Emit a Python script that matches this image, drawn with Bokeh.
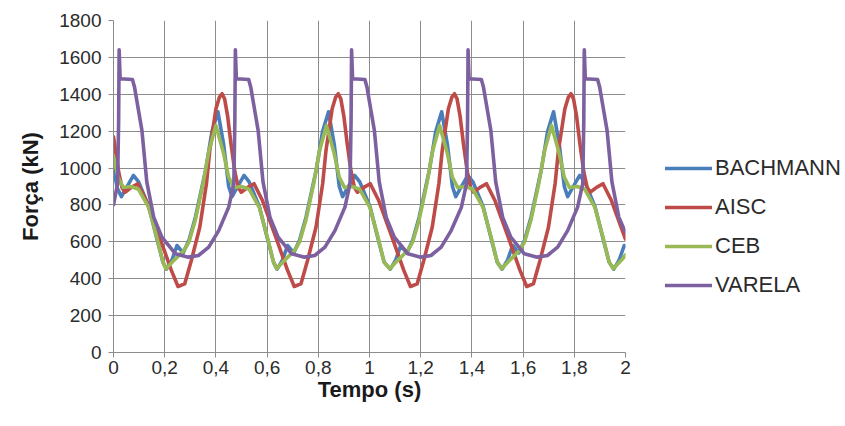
from bokeh.plotting import figure
from bokeh.models import Legend, LegendItem, FixedTicker
from bokeh.embed import file_html
from bokeh.resources import INLINE

# ---- data ----
x_ticks = [0, 0.2, 0.4, 0.6, 0.8, 1.0, 1.2, 1.4, 1.6, 1.8, 2.0]
x_tick_labels = ["0", "0,2", "0,4", "0,6", "0,8", "1", "1,2", "1,4", "1,6", "1,8", "2"]
y_ticks = [0, 200, 400, 600, 800, 1000, 1200, 1400, 1600, 1800]
series_names = ["BACHMANN", "AISC", "CEB", "VARELA"]

bachmann_t = [0.000, 0.015, 0.031, 0.053, 0.078, 0.098, 0.138, 0.168, 0.193, 0.207, 0.228, 0.248,
              0.272, 0.295, 0.320, 0.360, 0.385, 0.408, 0.430, 0.450, 0.463, 0.485, 0.510, 0.530,
              0.570, 0.600, 0.625, 0.639, 0.660, 0.680, 0.704, 0.727, 0.752, 0.792, 0.817, 0.840,
              0.862, 0.882, 0.895, 0.917, 0.942, 0.962, 1.002, 1.032, 1.057, 1.081, 1.102, 1.122,
              1.146, 1.169, 1.194, 1.234, 1.259, 1.282, 1.304, 1.324, 1.337, 1.359, 1.384, 1.404,
              1.444, 1.474, 1.499, 1.518, 1.539, 1.559, 1.583, 1.606, 1.631, 1.671, 1.696, 1.719,
              1.741, 1.761, 1.774, 1.796, 1.821, 1.841, 1.881, 1.911, 1.936, 1.954, 1.975, 1.995, 2.000]
bachmann_v = [1000, 890, 845, 900, 960, 925, 790, 625, 490, 452, 500, 580,
              540, 610, 734, 990, 1200, 1305, 1130, 900, 845, 900, 960, 925,
              790, 625, 490, 452, 500, 580, 540, 610, 734, 990, 1200, 1305,
              1130, 900, 845, 900, 960, 925, 790, 625, 490, 452, 500, 580,
              540, 610, 734, 990, 1200, 1305, 1130, 900, 845, 900, 960, 925,
              790, 625, 490, 452, 500, 580, 540, 610, 734, 990, 1200, 1305,
              1130, 900, 845, 900, 960, 925, 790, 625, 490, 452, 500, 580, 575]

aisc_t = [0.000, 0.020, 0.033, 0.045, 0.070, 0.095, 0.128, 0.180, 0.226, 0.252, 0.278, 0.304,
          0.337, 0.363, 0.376, 0.400, 0.414, 0.424, 0.434, 0.446, 0.459, 0.474, 0.487, 0.499,
          0.524, 0.549, 0.582, 0.634, 0.680, 0.706, 0.732, 0.758, 0.791, 0.817, 0.830, 0.854,
          0.868, 0.878, 0.888, 0.900, 0.913, 0.928, 0.941, 0.953, 0.978, 1.003, 1.036, 1.088,
          1.134, 1.160, 1.186, 1.212, 1.245, 1.271, 1.284, 1.308, 1.322, 1.332, 1.342, 1.354,
          1.367, 1.382, 1.395, 1.407, 1.432, 1.457, 1.490, 1.542, 1.588, 1.614, 1.640, 1.666,
          1.699, 1.725, 1.738, 1.763, 1.777, 1.787, 1.797, 1.809, 1.822, 1.837, 1.850, 1.862,
          1.887, 1.912, 1.945, 1.997, 2.000]
aisc_v = [1170, 980, 895, 869, 895, 915, 824, 625, 445, 358, 372, 499,
          679, 915, 1095, 1320, 1385, 1403, 1375, 1280, 1130, 980, 895, 869,
          895, 915, 824, 625, 445, 358, 372, 499, 679, 915, 1095, 1320,
          1385, 1403, 1375, 1280, 1130, 980, 895, 869, 895, 915, 824, 625,
          445, 358, 372, 499, 679, 915, 1095, 1320, 1385, 1403, 1375, 1280,
          1130, 980, 895, 869, 895, 915, 824, 625, 445, 358, 372, 499,
          679, 915, 1095, 1320, 1385, 1403, 1375, 1280, 1130, 980, 895, 869,
          895, 915, 824, 625, 615]

ceb_t = [0.000, 0.018, 0.038, 0.068, 0.098, 0.138, 0.168, 0.193, 0.205, 0.240, 0.275, 0.295,
         0.320, 0.350, 0.373, 0.400, 0.430, 0.450, 0.470, 0.500, 0.530, 0.570, 0.600, 0.625,
         0.637, 0.672, 0.707, 0.727, 0.752, 0.782, 0.805, 0.832, 0.862, 0.882, 0.902, 0.932,
         0.962, 1.002, 1.032, 1.057, 1.079, 1.114, 1.149, 1.169, 1.194, 1.224, 1.247, 1.274,
         1.304, 1.324, 1.344, 1.374, 1.404, 1.444, 1.474, 1.499, 1.516, 1.551, 1.586, 1.606,
         1.631, 1.661, 1.684, 1.711, 1.741, 1.761, 1.781, 1.811, 1.841, 1.881, 1.911, 1.936,
         1.952, 1.987, 2.000]
ceb_v = [1065, 950, 895, 900, 885, 785, 630, 490, 454, 505, 553, 600,
         720, 915, 1095, 1231, 1080, 950, 895, 900, 885, 785, 630, 490,
         454, 505, 553, 600, 720, 915, 1095, 1231, 1080, 950, 895, 900,
         885, 785, 630, 490, 454, 505, 553, 600, 720, 915, 1095, 1231,
         1080, 950, 895, 900, 885, 785, 630, 490, 454, 505, 553, 600,
         720, 915, 1095, 1231, 1080, 950, 895, 900, 885, 785, 630, 490,
         454, 505, 530]

varela_t = [0.000, 0.016, 0.020, 0.022, 0.026, 0.074, 0.082, 0.091, 0.111, 0.130, 0.157, 0.189,
            0.242, 0.292, 0.332, 0.372, 0.411, 0.450, 0.470, 0.474, 0.476, 0.480, 0.528, 0.536,
            0.545, 0.565, 0.584, 0.611, 0.643, 0.696, 0.746, 0.786, 0.826, 0.865, 0.904, 0.924,
            0.928, 0.930, 0.934, 0.982, 0.990, 0.999, 1.019, 1.038, 1.065, 1.097, 1.150, 1.200,
            1.240, 1.280, 1.319, 1.359, 1.379, 1.383, 1.385, 1.389, 1.437, 1.445, 1.454, 1.474,
            1.493, 1.520, 1.552, 1.605, 1.655, 1.695, 1.735, 1.774, 1.813, 1.833, 1.837, 1.839,
            1.843, 1.891, 1.899, 1.908, 1.928, 1.947, 1.974, 2.000]
varela_v = [800, 916, 1250, 1641, 1484, 1480, 1440, 1366, 1204, 925, 734, 625,
            535, 517, 526, 571, 661, 788, 916, 1250, 1641, 1484, 1480, 1440,
            1366, 1204, 925, 734, 625, 535, 517, 526, 571, 661, 788, 916,
            1250, 1641, 1484, 1480, 1440, 1366, 1204, 925, 734, 625, 535, 517,
            526, 571, 661, 788, 916, 1250, 1641, 1484, 1480, 1440, 1366, 1204,
            925, 734, 625, 535, 517, 526, 571, 661, 788, 916, 1250, 1641,
            1484, 1480, 1440, 1366, 1204, 925, 734, 650]

colors = ["#4A7EBB", "#BE4B48", "#98B954", "#7D60A0"]

FONT = "Liberation Sans"
TXT = "#2b2b2b"
GRID = "#8C8C8C"

p = figure(frame_width=512, frame_height=332, x_range=(0, 2), y_range=(0, 1800),
           output_backend="svg", toolbar_location=None,
           min_border_left=113, min_border_right=220, min_border_top=20, min_border_bottom=74)
p.outline_line_color = None
p.background_fill_color = "white"
p.border_fill_color = "white"

p.xaxis.ticker = FixedTicker(ticks=x_ticks)
p.yaxis.ticker = FixedTicker(ticks=y_ticks)
p.xaxis.major_label_overrides = {t: s for t, s in zip(x_ticks, x_tick_labels)}
for ax in (p.xaxis[0], p.yaxis[0]):
    ax.axis_line_color = GRID
    ax.major_tick_line_color = GRID
    ax.major_tick_out = 5
    ax.major_tick_in = 0
    ax.minor_tick_line_color = None
    ax.major_label_text_font = FONT
    ax.major_label_text_font_size = "19px"
    ax.major_label_text_color = TXT
    ax.axis_label_text_font = FONT
    ax.axis_label_text_font_size = "22px"
    ax.axis_label_text_font_style = "bold"
    ax.axis_label_text_color = "#1a1a1a"
p.xaxis.axis_label = "Tempo (s)"
p.yaxis.axis_label = "Força (kN)"
p.xaxis.major_label_standoff = 3
p.xaxis.axis_label_standoff = 0
p.yaxis.major_label_standoff = 7
p.yaxis.axis_label_standoff = 13

p.xgrid.grid_line_color = GRID
p.ygrid.grid_line_color = GRID
p.xgrid.grid_line_width = 1
p.ygrid.grid_line_width = 1

renderers = []
for t, v, c in zip([bachmann_t, aisc_t, ceb_t, varela_t],
                   [bachmann_v, aisc_v, ceb_v, varela_v], colors):
    r = p.line(t, v, line_color=c, line_width=3.6, line_join="round", line_cap="round")
    renderers.append(r)

legend = Legend(items=[LegendItem(label=n, renderers=[r]) for n, r in zip(series_names, renderers)],
                location=(40, 54))
legend.background_fill_alpha = 0
legend.border_line_color = None
legend.padding = 0
legend.margin = 0
legend.glyph_width = 47
legend.glyph_height = 20
legend.label_height = 20
legend.label_standoff = 3
legend.spacing = 13
legend.label_text_font = FONT
legend.label_text_font_size = "22px"
legend.label_text_color = TXT
p.add_layout(legend, "right")

open("out.html", "w").write(file_html(p, INLINE))
